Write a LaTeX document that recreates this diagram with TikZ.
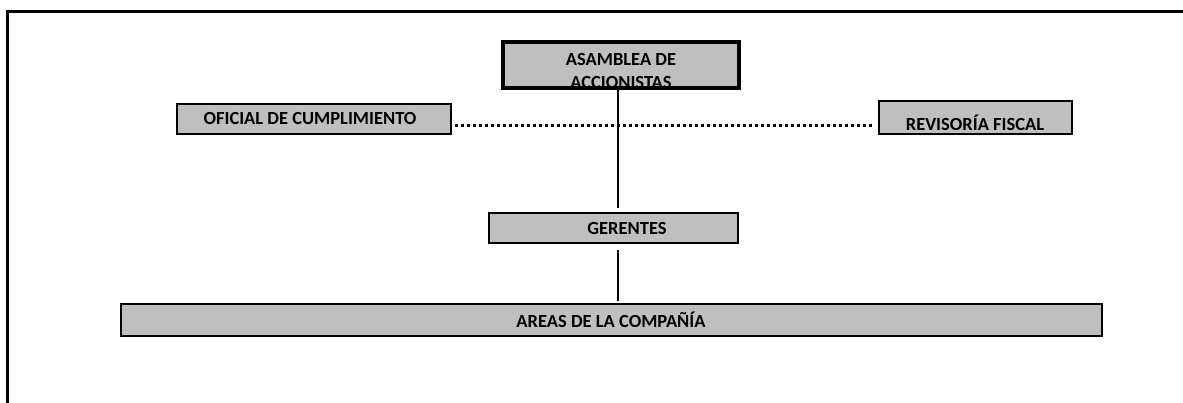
\documentclass[tikz,border=0pt]{standalone}
\usepackage{fontspec}
\setmainfont{Carlito}
\usepackage{tikz}
\usetikzlibrary{positioning}

\tikzset{
  box/.style = {draw, line width = 2pt, fill = gray!50, inner sep = 0, rectangle},
  txt/.style = {font = \fontsize{18.5}{22}\selectfont\bfseries, inner sep = 0},
  conn/.style = {line width = 2pt},
  dots/.style = {line width = 3pt, dash pattern = on 3pt off 3pt}
}

\begin{document}
\begin{tikzpicture}[x = 1pt, y = -1pt]
 \useasboundingbox (0, 0) rectangle (1183, 403);
 % outer frame, top and left only
 \draw[line width = 3pt] (7, 403) -- (7, 12) -- (1183, 12);
 % boxes
 \node[box, line width = 4pt, minimum width = 236, minimum height = 46] (asamblea) at (621, 65) {};
 \node[txt, align = center] (asambleaText) at ([yshift = -6]asamblea.center) {ASAMBLEA DE\\[1pt]ACCIONISTAS};
 \node[box, minimum width = 274, minimum height = 30] (oficial) at (314, 119) {};
 \node[txt] (oficialText) at ([xshift = -4]oficial.center) {OFICIAL DE CUMPLIMIENTO};
 \node[box, minimum width = 193, minimum height = 33] (revisoria) at (975, 118) {};
 \node[txt] (revisoriaText) at ([yshift = -5]revisoria.center) {REVISORÍA FISCAL};
 \node[box, minimum width = 249, minimum height = 30] (gerentes) at (613, 228) {};
 \node[txt] (gerentesText) at ([xshift = 14]gerentes.center) {GERENTES};
 \node[box, minimum width = 981, minimum height = 32] (areas) at (611, 320) {};
 \node[txt] (areasText) at (areas.center) {AREAS DE LA COMPAÑÍA};
 % connectors
 \draw[conn, shorten >= 4pt] (asamblea.south -| 618, 0) -- (gerentes.north -| 618, 0);
 \draw[conn, shorten <= 6pt, shorten >= 2pt] (gerentes.south -| 618, 0) -- (areas.north -| 618, 0);
 \draw[dots] ([xshift = 3, yshift = -7]oficial.east) -- ([xshift = -4, yshift = -8]revisoria.west);
\end{tikzpicture}
\end{document}
